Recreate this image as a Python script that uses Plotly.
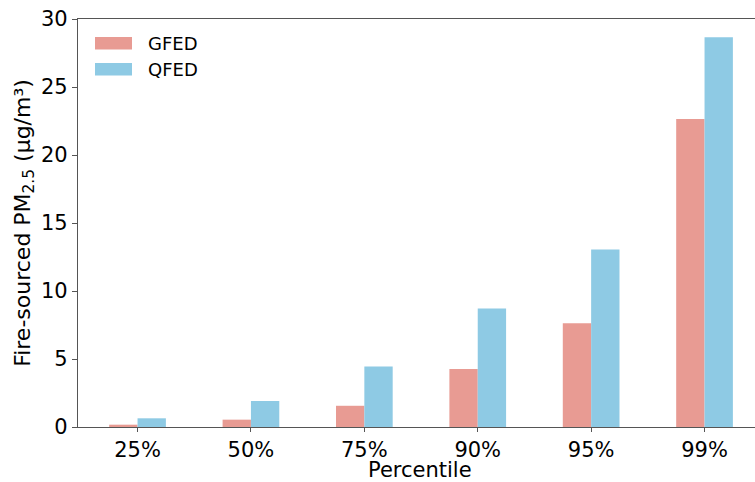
import plotly.graph_objects as go

categories = ["25%", "50%", "75%", "90%", "95%", "99%"]
gfed = [0.17, 0.54, 1.56, 4.26, 7.62, 22.65]
qfed = [0.64, 1.91, 4.45, 8.72, 13.05, 28.65]
series_names = ["GFED", "QFED"]
colors = ["#E89B93", "#8ECAE4"]
y_ticks = [0, 5, 10, 15, 20, 25, 30]

FONT = "DejaVu Sans"

fig = go.Figure()
for name, vals, col in zip(series_names, [gfed, qfed], colors):
    fig.add_trace(go.Bar(x=categories, y=vals, name=name, marker=dict(color=col, line=dict(width=0)),
                         showlegend=False))

fig.update_layout(
    width=755, height=482,
    margin=dict(l=78, r=0, t=19, b=54.5),
    paper_bgcolor="white", plot_bgcolor="white",
    barmode="group", bargap=0.5, bargroupgap=0,
    font=dict(family=FONT, size=21, color="black"),
)
fig.update_xaxes(
    range=[-0.525, 5.445], showline=True, linecolor="#555", linewidth=1.3, mirror=True,
    ticks="outside", ticklen=4, tickcolor="#555", tickwidth=1.2, showgrid=False,
    tickfont=dict(size=21),
)
fig.update_yaxes(
    range=[0, 30], tickvals=y_ticks, showline=True, linecolor="#555", linewidth=1.3,
    ticks="outside", ticklen=5, tickcolor="#555", tickwidth=1.2, showgrid=False, zeroline=False,
    tickfont=dict(size=21),
    title=dict(text="Fire-sourced PM<sub>2.5</sub> (μg/m³)", font=dict(size=22), standoff=4),
)

pw = 677.0
ph = 482 - 19 - 54.5
def px_x(x):
    return (x - 78) / pw
def px_y(y):
    return (482 - 54.5 - y) / ph

# x-axis title placed like matplotlib's label
fig.add_annotation(xref="paper", yref="paper", x=px_x(420), y=px_y(471),
                   text="Percentile", showarrow=False, xanchor="center", yanchor="middle",
                   font=dict(family=FONT, size=21, color="black"))

# manual legend (matplotlib style wide patches)
for i, (name, col) in enumerate(zip(series_names, colors)):
    y0 = 37 + i * 26
    fig.add_shape(type="rect", xref="paper", yref="paper",
                  x0=px_x(95), x1=px_x(132), y0=px_y(y0 + 12.5), y1=px_y(y0),
                  fillcolor=col, line=dict(width=0))
    fig.add_annotation(xref="paper", yref="paper", x=px_x(146), y=px_y(y0 + 6.5),
                       text=name, showarrow=False, xanchor="left", yanchor="middle",
                       font=dict(family=FONT, size=18, color="black"))

fig.write_html("out.html", config={"displayModeBar": False},
               post_script="document.body.style.margin='0';document.body.style.overflow='hidden';")
